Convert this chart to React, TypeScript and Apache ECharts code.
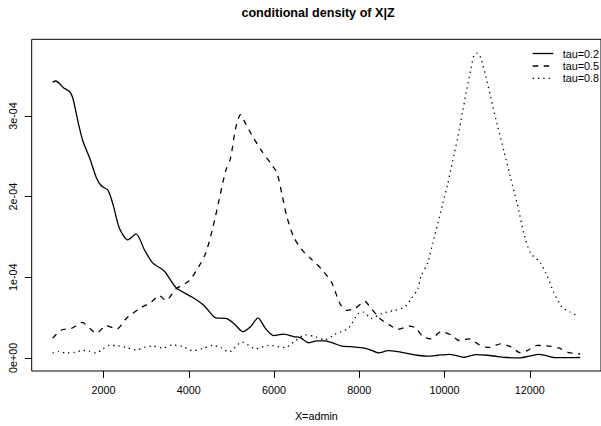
import React, { useEffect, useRef } from "react";
import * as echarts from "echarts";

// ---- data (x = admin, density in units of 1e-4) ----
const DENSITY_UNIT = 1e-4;

const tau02X = [803, 880, 1050, 1207, 1284, 1400, 1517, 1673, 1830, 1946, 2100, 2217, 2373, 2567, 2763, 2957, 3150, 3423, 3696, 4083, 4356, 4629, 4863, 5056, 5266, 5446, 5623, 5796, 5989, 6223, 6456, 6612, 6806, 7000, 7196, 7389, 7583, 7816, 8050, 8245, 8455, 8672, 8945, 9179, 9372, 9606, 9839, 10112, 10305, 10462, 10733, 11005, 11239, 11472, 11782, 11978, 12212, 12405, 12599, 12872, 13182];
const tau02Y = [3.42, 3.434, 3.354, 3.3, 3.211, 2.927, 2.683, 2.479, 2.235, 2.134, 2.08, 1.91, 1.605, 1.463, 1.537, 1.341, 1.178, 1.077, 0.873, 0.751, 0.65, 0.495, 0.488, 0.427, 0.324, 0.385, 0.495, 0.366, 0.276, 0.293, 0.263, 0.251, 0.187, 0.211, 0.211, 0.183, 0.146, 0.138, 0.126, 0.101, 0.061, 0.089, 0.073, 0.049, 0.032, 0.02, 0.032, 0.044, 0.024, 0.007, 0.04, 0.032, 0.016, 0.004, 0.0, 0.02, 0.044, 0.024, 0.002, 0.002, 0.004];

const tau05X = [803, 1013, 1246, 1503, 1673, 1830, 2063, 2310, 2530, 2840, 3113, 3306, 3463, 3696, 4006, 4240, 4396, 4550, 4706, 4863, 4979, 5096, 5213, 5329, 5523, 5716, 5912, 6066, 6183, 6300, 6456, 6650, 6883, 7116, 7350, 7546, 7700, 7895, 8129, 8283, 8479, 8712, 8906, 9179, 9333, 9489, 9683, 9916, 10149, 10345, 10578, 10812, 11045, 11316, 11549, 11782, 11939, 12172, 12445, 12678, 12911, 13182];
const tau05Y = [0.244, 0.345, 0.366, 0.439, 0.366, 0.305, 0.398, 0.357, 0.488, 0.61, 0.69, 0.772, 0.711, 0.854, 0.955, 1.138, 1.3, 1.585, 1.951, 2.317, 2.479, 2.845, 3.016, 2.906, 2.723, 2.561, 2.418, 2.296, 2.032, 1.748, 1.504, 1.341, 1.22, 1.098, 0.934, 0.671, 0.589, 0.61, 0.699, 0.61, 0.488, 0.406, 0.354, 0.394, 0.366, 0.263, 0.235, 0.324, 0.284, 0.215, 0.235, 0.162, 0.129, 0.174, 0.138, 0.061, 0.089, 0.154, 0.146, 0.122, 0.065, 0.049];

const tau08X = [803, 934, 1130, 1323, 1517, 1673, 1830, 1984, 2140, 2334, 2530, 2763, 2957, 3150, 3383, 3617, 3850, 4083, 4317, 4550, 4746, 4940, 5250, 5562, 5873, 6262, 6495, 6729, 6962, 7196, 7429, 7739, 7972, 8089, 8283, 8516, 8829, 9062, 9216, 9372, 9449, 9606, 9722, 9839, 9956, 10072, 10189, 10305, 10422, 10522, 10616, 10695, 10772, 10849, 10966, 11082, 11239, 11395, 11549, 11705, 11861, 12016, 12249, 12405, 12561, 12755, 12949, 13089];
const tau08Y = [0.061, 0.08, 0.061, 0.068, 0.093, 0.08, 0.061, 0.11, 0.154, 0.15, 0.129, 0.098, 0.129, 0.146, 0.122, 0.159, 0.141, 0.089, 0.113, 0.154, 0.129, 0.073, 0.195, 0.113, 0.154, 0.129, 0.211, 0.284, 0.263, 0.223, 0.293, 0.366, 0.549, 0.568, 0.488, 0.549, 0.589, 0.629, 0.732, 0.854, 1.016, 1.178, 1.422, 1.666, 1.91, 2.154, 2.439, 2.723, 3.049, 3.333, 3.577, 3.76, 3.78, 3.72, 3.495, 3.232, 2.885, 2.561, 2.235, 1.91, 1.544, 1.3, 1.178, 1.016, 0.812, 0.629, 0.568, 0.528];

const seriesNames = ["tau=0.2", "tau=0.5", "tau=0.8"];
const xTickValues = [2000, 4000, 6000, 8000, 10000, 12000];
const xTickLabels = ["2000", "4000", "6000", "8000", "10000", "12000"];
const yTickValues = [0, 1e-4, 2e-4, 3e-4];
const yTickLabels = ["0e+00", "1e-04", "2e-04", "3e-04"];

const FONT = "'Liberation Sans', Arial, Helvetica, sans-serif";
const FS = 10.8;

const pairs = (xs: number[], ys: number[]) => xs.map((x, i) => [x, ys[i] * DENSITY_UNIT]);

export default function App() {
  const ref = useRef<HTMLDivElement>(null);
  useEffect(() => {
    if (!ref.current) return;
    const chart = echarts.init(ref.current, undefined, { renderer: "svg" });
    const dashes: any[] = ["solid", [5.5, 5.5], [1.3, 4]];
    const data = [pairs(tau02X, tau02Y), pairs(tau05X, tau05Y), pairs(tau08X, tau08Y)];
    const legendRows = [53.5, 66, 78.3];
    chart.setOption({
      animation: false,
      backgroundColor: "#ffffff",
      grid: {
        left: 31.7,
        top: 39.3,
        width: 572.5,
        height: 337.4,
        show: true,
        borderColor: "#000",
        borderWidth: 1,
        containLabel: false,
      },
      xAxis: {
        type: "value",
        min: 313,
        max: 13670,
        axisLine: { show: false, onZero: false },
        splitLine: { show: false },
        axisTick: { show: true, length: 7, customValues: xTickValues, lineStyle: { color: "#000", width: 1 } },
        axisLabel: {
          customValues: xTickValues,
          margin: 13,
          color: "#000",
          fontSize: FS,
          fontFamily: FONT,
          formatter: (v: number) => xTickLabels[xTickValues.indexOf(Math.round(v))] ?? String(v),
        },
        name: "X=admin",
        nameLocation: "middle",
        nameGap: 39,
        nameTextStyle: { color: "#000", fontSize: FS, fontFamily: FONT },
      },
      yAxis: {
        type: "value",
        min: -0.1634e-4,
        max: 3.951e-4,
        axisLine: { show: false, onZero: false },
        splitLine: { show: false },
        axisTick: { show: true, length: 7, customValues: yTickValues, lineStyle: { color: "#000", width: 1 } },
        axisLabel: {
          customValues: yTickValues,
          rotate: 90,
          margin: 13,
          color: "#000",
          fontSize: FS,
          fontFamily: FONT,
          formatter: (v: number) => yTickLabels[Math.round(v / 1e-4)] ?? "",
        },
      },
      series: data.map((d, i) => ({
        type: "line",
        name: seriesNames[i],
        data: d,
        showSymbol: false,
        smooth: 0.25,
        lineStyle: { color: "#000", width: 1.3, type: dashes[i] },
      })),
      graphic: [
        {
          type: "text",
          x: 318,
          y: 13.3,
          style: {
            text: "conditional density of X|Z",
            font: `bold 12.6px ${FONT}`,
            fill: "#000",
            align: "center",
            verticalAlign: "middle",
            textAlign: "center",
            textVerticalAlign: "middle",
          },
        },
        ...seriesNames.flatMap((name, i) => [
          {
            type: "line",
            shape: { x1: 532.7, y1: legendRows[i], x2: 553.3, y2: legendRows[i] },
            style: {
              stroke: "#000",
              lineWidth: 1.3,
              lineDash: i === 0 ? null : dashes[i],
            },
          },
          {
            type: "text",
            x: 562.7,
            y: legendRows[i],
            style: {
              text: name,
              font: `${FS}px ${FONT}`,
              fill: "#000",
              align: "left",
              verticalAlign: "middle",
              textAlign: "left",
              textVerticalAlign: "middle",
            },
          },
        ]),
      ],
    });
    return () => chart.dispose();
  }, []);
  return (
    <div
      ref={ref}
      style={{ position: "absolute", left: 0, top: 0, width: 601, height: 426 }}
    />
  );
}
